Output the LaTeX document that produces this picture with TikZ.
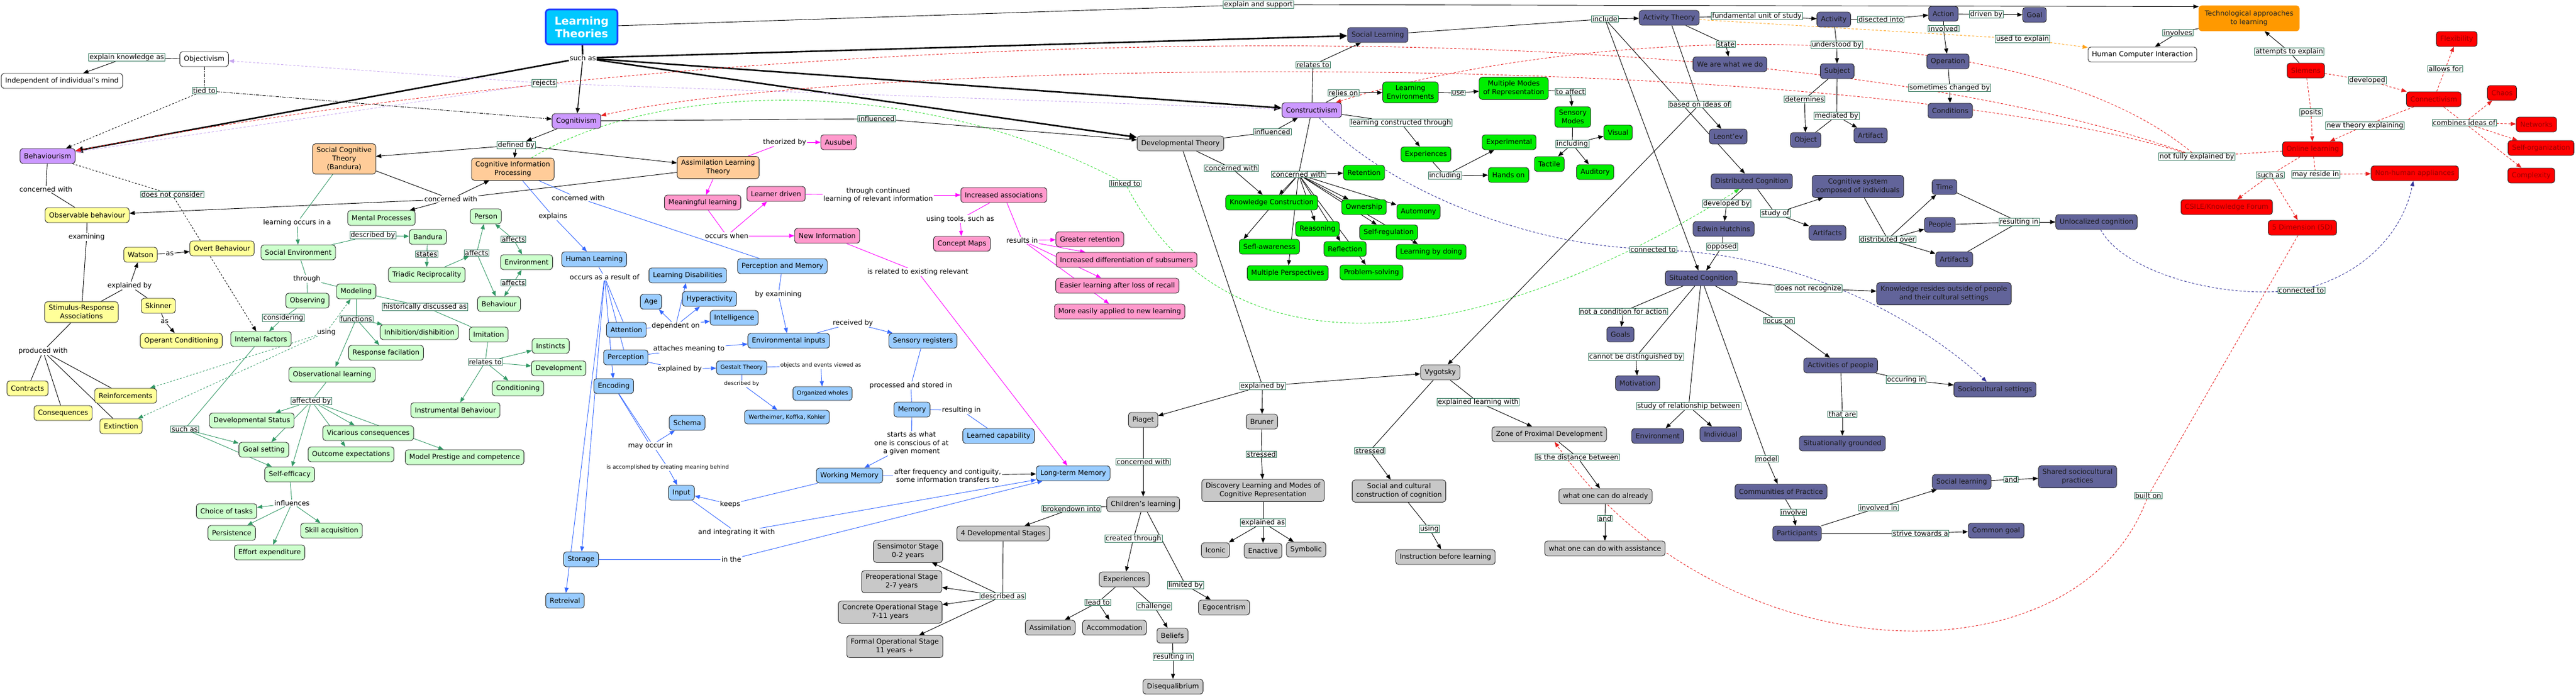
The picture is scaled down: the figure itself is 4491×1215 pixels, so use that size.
\documentclass[tikz,border=0pt]{standalone}
\usepackage{fontspec}
\setmainfont{DejaVu Sans}
\usetikzlibrary{arrows.meta}
\pgfdeclarelayer{bg}
\pgfdeclarelayer{paper}
\pgfsetlayers{paper,bg,main}
\definecolor{cPur}{HTML}{CC99FF}
\definecolor{cOrg}{HTML}{FFCC99}
\definecolor{cLgr}{HTML}{CCFFCC}
\definecolor{cYel}{HTML}{FFFF99}
\definecolor{cBlu}{HTML}{99CCFF}
\definecolor{cPnk}{HTML}{FF99CC}
\definecolor{cGry}{HTML}{C8C8C8}
\definecolor{cBgr}{HTML}{00EE00}
\definecolor{cSla}{HTML}{62649A}
\definecolor{cRed}{HTML}{FF0000}
\definecolor{cRedT}{HTML}{9A0000}
\definecolor{cTech}{HTML}{FF9900}
\definecolor{cLT}{HTML}{00C8FF}
\definecolor{cLTb}{HTML}{1E40FF}
\definecolor{cLab}{HTML}{3A7D63}
\definecolor{cGl}{HTML}{339966}
\definecolor{cBl}{HTML}{3366FF}
\definecolor{cMg}{HTML}{FF00FF}
\definecolor{cRd}{HTML}{E82020}
\definecolor{cNv}{HTML}{333399}
\definecolor{cLv}{HTML}{C8A8F0}
\definecolor{cOd}{HTML}{FFA31A}
\definecolor{cGd}{HTML}{33DD33}
\tikzset{
 cn/.style={draw=black!85, line width=0.9pt, rounded corners=5pt, font=\fontsize{12}{15}\selectfont, inner xsep=7pt, inner ysep=6pt, minimum height=26pt, align=center, text=black},
 cpur/.style={cn, fill=cPur},
 corg/.style={cn, fill=cOrg},
 clgr/.style={cn, fill=cLgr},
 cyel/.style={cn, fill=cYel},
 cblu/.style={cn, fill=cBlu},
 cpnk/.style={cn, fill=cPnk},
 cgry/.style={cn, fill=cGry},
 cbgr/.style={cn, fill=cBgr},
 csla/.style={cn, fill=cSla, text=black!90},
 cred/.style={cn, fill=cRed, text=cRedT},
 cwht/.style={cn, fill=white},
 csmall/.style={font=\fontsize{10}{12}\selectfont, minimum height=24pt},
 lb/.style={font=\fontsize{12}{14.5}\selectfont, inner xsep=1.5pt, inner ysep=1pt, fill=white, align=center},
 lbs/.style={lb, font=\fontsize{9.5}{11}\selectfont},
 lbx/.style={lb, draw=cLab, line width=0.7pt},
 tip/.style={-{Triangle[length=9pt,width=7pt]}},
 eK/.style={draw=black, line width=0.9pt},
 eKa/.style={eK, tip},
 eTk/.style={draw=black, line width=2.6pt},
 eTka/.style={eTk, -{Triangle[length=13pt,width=11pt]}},
 eKd/.style={eK, dash pattern=on 3pt off 3pt},
 eKda/.style={eKd, tip},
 eKdd/.style={eK, dash pattern=on 6pt off 2pt on 1.5pt off 2pt},
 eKdda/.style={eKdd, tip},
 eG/.style={draw=cGl, line width=0.9pt},
 eGa/.style={eG, tip},
 eGd/.style={eG, dash pattern=on 3pt off 3pt},
 eGda/.style={eGd, tip},
 eB/.style={draw=cBl, line width=0.9pt},
 eBa/.style={eB, tip},
 eM/.style={draw=cMg, line width=0.9pt},
 eMa/.style={eM, tip},
 eR/.style={draw=cRd, line width=0.9pt, dash pattern=on 4pt off 3pt},
 eRa/.style={eR, tip},
 eN/.style={draw=cNv, line width=0.9pt, dash pattern=on 4pt off 3pt},
 eNa/.style={eN, tip},
 eL/.style={draw=cLv, line width=0.9pt, dash pattern=on 4pt off 3pt},
 eLa/.style={eL, tip},
 eO/.style={draw=cOd, line width=0.9pt, dash pattern=on 4pt off 3pt},
 eOa/.style={eO, tip},
 eGD/.style={draw=cGd, line width=0.9pt, dash pattern=on 4pt off 3pt},
 eGDa/.style={eGD, tip},
}
\begin{document}
\begin{tikzpicture}[x=1pt,y=-1pt]
\useasboundingbox (0,0) rectangle (4491,1215);
\begin{pgfonlayer}{paper}
\fill[white] (0,0) rectangle (4491,1215);
\end{pgfonlayer}

% ---------------- main node
\node[draw=cLTb, line width=3pt, fill=cLT, rounded corners=6pt, text=white, font=\bfseries\fontsize{19}{22}\selectfont, align=center, minimum width=125pt, minimum height=61pt] (lt) at (1014,47) {Learning\\Theories};

% ---------------- left region
\node[cwht] (objv) at (356,103) {Objectivism};
\node[cwht] (indep) at (108,141) {Independent of individual's mind};
\node[cpur] (cog) at (1005,211) {Cognitivism};
\node[cpur] (beh) at (83,272) {Behaviourism};
\node[corg] (sct) at (600,277) {Social Cognitive\\Theory\\(Bandura)};
\node[corg] (cip) at (894,295) {Cognitive Information\\Processing};
\node[clgr] (mental) at (665,380) {Mental Processes};
\node[clgr] (person) at (847,377) {Person};
\node[cyel] (obsb) at (152,375) {Observable behaviour};
\node[clgr] (bandura) at (746,413) {Bandura};
\node[cyel] (watson) at (245,444) {Watson};
\node[cyel] (overt) at (387,433) {Overt Behaviour};
\node[clgr] (socenv) at (520,440) {Social Environment};
\node[clgr] (envg) at (918,457) {Environment};
\node[cblu] (hl) at (1036,452) {Human Learning};
\node[clgr] (triadic) at (744,479) {Triadic Reciprocality};
\node[clgr] (modeling) at (621,508) {Modeling};
\node[clgr] (observing) at (536,524) {Observing};
\node[cyel] (sr) at (142,544) {Stimulus-Response\\Associations};
\node[cyel] (skinner) at (276,533) {Skinner};
\node[clgr] (behg) at (870,530) {Behaviour};
\node[cyel] (operant) at (316,594) {Operant Conditioning};
\node[clgr] (internal) at (455,591) {Internal factors};
\node[clgr] (inhib) at (731,579) {Inhibition/dishibition};
\node[clgr] (imitation) at (852,583) {Imitation};
\node[clgr] (instincts) at (960,603) {Instincts};
\node[cblu] (attention) at (1092,575) {Attention};
\node[clgr] (respf) at (673,615) {Response facilation};
\node[clgr] (devel) at (974,642) {Development};
\node[clgr] (obsl) at (579,653) {Observational learning};
\node[cyel] (contracts) at (48,677) {Contracts};
\node[cyel] (reinf) at (219,690) {Reinforcements};
\node[clgr] (condg) at (903,677) {Conditioning};
\node[cblu] (encoding) at (1070,673) {Encoding};
\node[clgr] (instr) at (794,715) {Instrumental Behaviour};
\node[clgr] (devstat) at (439,733) {Developmental Status};
\node[cyel] (conseq) at (110,720) {Consequences};
\node[cyel] (extinct) at (211,743) {Extinction};
\node[clgr] (vicar) at (642,755) {Vicarious consequences};
\node[clgr] (goalset) at (460,784) {Goal setting};
\node[clgr] (outcome) at (612,792) {Outcome expectations};
\node[clgr] (prestige) at (810,797) {Model Prestige and competence};
\node[clgr] (selfeff) at (505,827) {Self-efficacy};
\node[clgr] (choice) at (395,891) {Choice of tasks};
\node[clgr] (persist) at (404,929) {Persistence};
\node[clgr] (skill) at (578,925) {Skill acquisition};
\node[clgr] (effort) at (470,963) {Effort expenditure};
\node[cblu] (perception) at (1091,623) {Perception};
\node[cblu] (storage) at (1013,975) {Storage};
\node[cblu] (retrieval) at (985,1047) {Retreival};

% ---------------- middle region
\node[cpnk] (ausubel) at (1462,248) {Ausubel};
\node[corg] (alt) at (1252,292) {Assimilation Learning\\Theory};
\node[cgry] (devth) at (2058,250) {Developmental Theory};
\node[cpnk] (meaningful) at (1225,353) {Meaningful learning};
\node[cpnk] (learnerd) at (1353,338) {Learner driven};
\node[cpnk] (incassoc) at (1750,340) {Increased associations};
\node[cpnk] (newinfo) at (1442,411) {New Information};
\node[cpnk] (cmaps) at (1677,425) {Concept Maps};
\node[cpnk] (greater) at (1900,417) {Greater retention};
\node[cpnk] (incdiff) at (1964,453) {Increased differentiation of subsumers};
\node[cpnk] (easier) at (1948,498) {Easier learning after loss of recall};
\node[cpnk] (moreeasy) at (1952,543) {More easily applied to new learning};
\node[cblu] (pm) at (1364,464) {Perception and Memory};
\node[cblu] (ld) at (1199,480) {Learning Disabilities};
\node[cblu] (age) at (1135,526) {Age};
\node[cblu] (hyper) at (1237,521) {Hyperactivity};
\node[cblu] (intel) at (1280,554) {Intelligence};
\node[cblu] (envin) at (1375,594) {Environmental inputs};
\node[cblu] (sensreg) at (1609,594) {Sensory registers};
\node[cblu, csmall] (gestalt) at (1293,641) {Gestalt Theory};
\node[cblu, csmall] (orgw) at (1434,686) {Organized wholes};
\node[cblu, csmall] (werth) at (1372,727) {Wertheimer, Koffka, Kohler};
\node[cblu] (schema) at (1198,737) {Schema};
\node[cblu] (memory) at (1590,714) {Memory};
\node[cblu] (learnedc) at (1741,760) {Learned capability};
\node[cblu] (input) at (1188,859) {Input};
\node[cblu] (wm) at (1481,829) {Working Memory};
\node[cblu] (ltm) at (1871,825) {Long-term Memory};

% ---------------- gray region
\node[cgry] (piaget) at (1993,732) {Piaget};
\node[cgry] (bruner) at (2200,735) {Bruner};
\node[cgry] (discovery) at (2202,855) {Discovery Learning and Modes of\\Cognitive Representation};
\node[cgry] (children) at (1993,879) {Children's learning};
\node[cgry] (fourds) at (1749,930) {4 Developmental Stages};
\node[cgry] (iconic) at (2119,959) {Iconic};
\node[cgry] (enactive) at (2202,960) {Enactive};
\node[cgry] (symbolic) at (2277,958) {Symbolic};
\node[cgry] (sensi) at (1583,961) {Sensimotor Stage\\0-2 years};
\node[cgry] (preop) at (1572,1014) {Preoperational Stage\\2-7 years};
\node[cgry] (concrete) at (1552,1067) {Concrete Operational Stage\\7-11 years};
\node[cgry] (formal) at (1560,1127) {Formal Operational Stage\\11 years +};
\node[cgry] (expg) at (1960,1010) {Experiences};
\node[cgry] (egocent) at (2134,1059) {Egocentrism};
\node[cgry] (assim) at (1831,1094) {Assimilation};
\node[cgry] (accom) at (1943,1094) {Accommodation};
\node[cgry] (beliefs) at (2044,1108) {Beliefs};
\node[cgry] (diseq) at (2045,1197) {Disequalibrium};
\node[cgry] (vygotsky) at (2511,649) {Vygotsky};
\node[cgry] (zpd) at (2701,757) {Zone of Proximal Development};
\node[cgry] (socult) at (2439,856) {Social and cultural\\construction of cognition};
\node[cgry] (already) at (2799,865) {what one can do already};
\node[cgry] (assist) at (2798,956) {what one can do with assistance};
\node[cgry] (instrb) at (2520,971) {Instruction before learning};

% ---------------- constructivism region
\node[cpur] (cons) at (2287,192) {Constructivism};
\node[cbgr] (learnenv) at (2459,161) {Learning\\Environments};
\node[cbgr] (mmr) at (2639,154) {Multiple Modes\\of Representation};
\node[cbgr] (sensm) at (2742,204) {Sensory\\Modes};
\node[cbgr] (visual) at (2821,231) {Visual};
\node[cbgr] (experimental) at (2631,248) {Experimental};
\node[cbgr] (expc) at (2486,269) {Experiences};
\node[cbgr] (tactile) at (2701,286) {Tactile};
\node[cbgr] (auditory) at (2781,300) {Auditory};
\node[cbgr] (handson) at (2630,305) {Hands on};
\node[cbgr] (retention) at (2378,301) {Retention};
\node[cbgr] (kc) at (2217,353) {Knowledge Construction};
\node[cbgr] (ownership) at (2378,361) {Ownership};
\node[cbgr] (automony) at (2473,369) {Automony};
\node[cbgr] (reasoning) at (2297,399) {Reasoning};
\node[cbgr] (selfreg) at (2421,405) {Self-regulation};
\node[cbgr] (reflection) at (2345,434) {Reflection};
\node[cbgr] (lbd) at (2495,439) {Learning by doing};
\node[cbgr] (sefl) at (2213,430) {Sefl-awareness};
\node[cbgr] (multper) at (2245,476) {Multiple Perspectives};
\node[cbgr] (probsolv) at (2391,475) {Problem-solving};

% ---------------- slate region
\node[csla] (soclearn) at (2402,61) {Social Learning};
\node[csla] (actth) at (2910,31) {Activity Theory};
\node[csla] (activity) at (3197,34) {Activity};
\node[csla] (action) at (3388,24) {Action};
\node[csla] (goal) at (3547,26) {Goal};
\node[csla] (operation) at (3396,107) {Operation};
\node[csla] (conditions) at (3400,193) {Conditions};
\node[csla] (subject) at (3203,124) {Subject};
\node[csla] (wearewhat) at (3016,112) {We are what we do};
\node[csla] (artifact) at (3261,236) {Artifact};
\node[csla] (object) at (3148,244) {Object};
\node[csla] (leontev) at (3013,238) {Leont'ev};
\node[csla] (dc) at (3054,316) {Distributed Cognition};
\node[csla] (cogsys) at (3239,325) {Cognitive system\\composed of individuals};
\node[csla] (hutchins) at (3005,399) {Edwin Hutchins};
\node[csla] (artifacts1) at (3186,406) {Artifacts};
\node[csla] (time) at (3390,326) {Time};
\node[csla] (people) at (3382,392) {People};
\node[csla] (artifacts2) at (3407,452) {Artifacts};
\node[csla] (unloc) at (3655,387) {Unlocalized cognition};
\node[csla] (sc) at (2966,485) {Situated Cognition};
\node[csla] (kresides) at (3389,512) {Knowledge resides outside of people\\and their cultural settings};
\node[csla] (goals) at (2825,583) {Goals};
\node[csla] (motivation) at (2855,668) {Motivation};
\node[csla] (actpeople) at (3209,637) {Activities of people};
\node[csla] (socset) at (3478,679) {Sociocultural settings};
\node[csla] (envp) at (2890,760) {Environment};
\node[csla] (individual) at (3000,757) {Individual};
\node[csla] (sitgr) at (3212,773) {Situationally grounded};
\node[csla] (cop) at (3105,857) {Communities of Practice};
\node[csla] (participants) at (3133,930) {Participants};
\node[csla] (commongoal) at (3480,925) {Common goal};
\node[csla] (soclearn2) at (3420,840) {Social learning};
\node[csla] (shared) at (3622,831) {Shared sociocultural\\practices};

% ---------------- right region
\node[cn, fill=cTech, draw=cTech, text=black!85, minimum width=175pt, minimum height=44pt] (tech) at (3921,32) {Technological approaches\\to learning};
\node[cwht] (hci) at (3735,95) {Human Computer Interaction};
\node[cred] (flex) at (4283,68) {Flexibility};
\node[cred] (siemens) at (4020,123) {Siemens};
\node[cred] (chaos) at (4362,162) {Chaos};
\node[cred] (connectivism) at (4243,173) {Connectivism};
\node[cred] (networks) at (4422,217) {Networks};
\node[cred] (online) at (4032,260) {Online learning};
\node[cred] (selforg) at (4430,258) {Self-organization};
\node[cred] (nha) at (4210,302) {Non-human appliances};
\node[cred] (complexity) at (4413,306) {Complexity};
\node[cred] (csile) at (3882,361) {CSILE/Knowledge Forum};
\node[cred] (fived) at (4014,397) {5 Dimension (5D)};

% ================= link labels
\node[lb] (l_suchas) at (1016,101) {such as};
\node[lbx] (l_explk) at (221,100) {explain knowledge as};
\node[lbx] (l_tied) at (356,158) {tied to};
\node[lbx] (l_rejects) at (949,145) {rejects};
\node[lbx] (l_definedby) at (900,253) {defined by};
\node[lb] (l_conc1) at (786,347) {concerned with};
\node[lb] (l_conc2) at (80,330) {concerned with};
\node[lbx] (l_dnc) at (300,339) {does not consider};
\node[lb] (l_loia) at (518,388) {learning occurs in a};
\node[lb] (l_explains) at (964,377) {explains};
\node[lb] (l_conc3) at (1008,345) {concerned with};
\node[lb] (l_examining) at (151,413) {examining};
\node[lbx] (l_descby) at (650,410) {described by};
\node[lbx] (l_aff1) at (895,417) {affects};
\node[lb] (l_as1) at (296,442) {as};
\node[lbx] (l_states) at (744,443) {states};
\node[lbx] (l_aff2) at (831,441) {affects};
\node[lbx] (l_aff3) at (895,493) {affects};
\node[lb] (l_oaro) at (1054,483) {occurs as a result of};
\node[lb] (l_explby1) at (226,498) {explained by};
\node[lb] (l_through) at (535,486) {through};
\node[lbx] (l_hist) at (741,535) {historically discussed as};
\node[lb] (l_as2) at (287,560) {as};
\node[lbx] (l_considering) at (494,554) {considering};
\node[lbx] (l_functions) at (621,556) {functions};
\node[lb] (l_using1) at (569,579) {using};
\node[lb] (l_produced) at (75,612) {produced with};
\node[lbx] (l_relates1) at (846,631) {relates to};
\node[lbx] (l_affby) at (543,699) {affected by};
\node[lbx] (l_suchas2) at (322,748) {such as};
\node[lb] (l_influences) at (509,877) {influences};

\node[lbx] (l_expsup) at (2194,8) {explain and support};
\node[lbx] (l_infl1) at (1528,207) {influenced};
\node[lb] (l_theor) at (1368,248) {theorized by};
\node[lbx] (l_infl2) at (2218,230) {influenced};
\node[lbx] (l_conc4) at (2147,293) {concerned with};
\node[lbx] (l_conc5) at (2264,304) {concerned with};
\node[lbx] (l_linked) at (1962,320) {linked to};
\node[lb] (l_tcl) at (1531,340) {through continued\\learning of relevant information};
\node[lb] (l_tools) at (1674,382) {using tools, such as};
\node[lb] (l_occwhen) at (1267,411) {occurs when};
\node[lb] (l_results) at (1782,419) {results in};
\node[lb] (l_related) at (1600,474) {is related to existing relevant};
\node[lb] (l_byexam) at (1357,513) {by examining};
\node[lb] (l_dep) at (1178,568) {dependent on};
\node[lb] (l_recv) at (1487,563) {received by};
\node[lb] (l_attach) at (1201,608) {attaches meaning to};
\node[lb] (l_explby2) at (1185,643) {explained by};
\node[lbs] (l_objev) at (1431,637) {objects and events viewed as};
\node[lbs] (l_descby2) at (1293,669) {described by};
\node[lb] (l_proc) at (1588,672) {processed and stored in};
\node[lb] (l_resin1) at (1676,715) {resulting in};
\node[lb] (l_starts) at (1589,773) {starts as what\\one is conscious of at\\a given moment};
\node[lb] (l_mayocc) at (1134,777) {may occur in};
\node[lbs] (l_accomp) at (1164,815) {is accomplished by creating meaning behind};
\node[lb] (l_after) at (1652,829) {after frequency and contiguity,\\some information transfers to};
\node[lb] (l_keeps) at (1273,879) {keeps};
\node[lb] (l_integ) at (1284,928) {and integrating it with};
\node[lb] (l_inthe) at (1275,975) {in the};

\node[lbx] (l_explby3) at (2201,673) {explained by};
\node[lbx] (l_conc6) at (1993,805) {concerned with};
\node[lbx] (l_stressed1) at (2199,792) {stressed};
\node[lbx] (l_broken) at (1868,887) {brokendown into};
\node[lbx] (l_explas) at (2202,911) {explained as};
\node[lbx] (l_created) at (1976,939) {created through};
\node[lbx] (l_descas) at (1748,1039) {described as};
\node[lbx] (l_limited) at (2067,1020) {limited by};
\node[lbx] (l_leadto) at (1914,1050) {lead to};
\node[lbx] (l_challenge) at (2012,1057) {challenge};
\node[lbx] (l_resin2) at (2045,1145) {resulting in};
\node[lbx] (l_elw) at (2577,701) {explained learning with};
\node[lbx] (l_stressed2) at (2388,786) {stressed};
\node[lbx] (l_distance) at (2750,797) {is the distance between};
\node[lbx] (l_and1) at (2798,904) {and};
\node[lbx] (l_using2) at (2492,922) {using};

\node[lbx] (l_relates2) at (2289,113) {relates to};
\node[lbx] (l_relies) at (2342,162) {relies on};
\node[lbx] (l_use) at (2542,162) {use};
\node[lbx] (l_toaffect) at (2738,160) {to affect};
\node[lbx] (l_lct) at (2442,214) {learning constructed through};
\node[lbx] (l_incl1) at (2741,251) {including};
\node[lbx] (l_incl2) at (2519,306) {including};

\node[lbx] (l_include) at (2798,33) {include};
\node[lbx] (l_fund) at (3063,28) {fundamental unit of study};
\node[lbx] (l_disected) at (3279,34) {disected into};
\node[lbx] (l_driven) at (3463,25) {driven by};
\node[lbx] (l_involved) at (3388,50) {involved};
\node[lbx] (l_used) at (3526,68) {used to explain};
\node[lbx] (l_involves) at (3797,57) {involves};
\node[lbx] (l_understood) at (3202,78) {understood by};
\node[lbx] (l_sometimes) at (3399,153) {sometimes changed by};
\node[lbx] (l_state) at (3009,77) {state};
\node[lbx] (l_determines) at (3146,173) {determines};
\node[lbx] (l_mediated) at (3202,202) {mediated by};
\node[lbx] (l_basedon) at (2963,182) {based on ideas of};
\node[lbx] (l_devby) at (3010,355) {developed by};
\node[lbx] (l_studyof) at (3095,372) {study of};
\node[lbx] (l_distover) at (3291,417) {distributed over};
\node[lbx] (l_resin3) at (3520,387) {resulting in};
\node[lbx] (l_opposed) at (3002,430) {opposed};
\node[lbx] (l_conn1) at (2882,435) {connected to};
\node[lbx] (l_dnr) at (3153,503) {does not recognize};
\node[lbx] (l_notcond) at (2830,543) {not a condition for action};
\node[lbx] (l_focus) at (3101,559) {focus on};
\node[lbx] (l_cannot) at (2852,622) {cannot be distinguished by};
\node[lbx] (l_occin) at (3323,662) {occuring in};
\node[lbx] (l_studyrel) at (2944,708) {study of relationship between};
\node[lbx] (l_thatare) at (3212,722) {that are};
\node[lbx] (l_model) at (3080,800) {model};
\node[lbx] (l_involve) at (3126,893) {involve};
\node[lbx] (l_involvedin) at (3275,885) {involved in};
\node[lbx] (l_strive) at (3348,930) {strive towards a};
\node[lbx] (l_and2) at (3506,836) {and};
\node[lbx] (l_builton) at (3745,864) {built on};

\node[lbx] (l_attempts) at (3991,90) {attempts to explain};
\node[lbx] (l_allows) at (4263,120) {allows for};
\node[lbx] (l_developed) at (4127,140) {developed};
\node[lbx] (l_posits) at (4029,196) {posits};
\node[lbx] (l_combines) at (4296,214) {combines ideas of};
\node[lbx] (l_newth) at (4123,219) {new theory explaining};
\node[lbx] (l_nfe) at (3830,273) {not fully explained by};
\node[lbx] (l_suchas3) at (3958,305) {such as};
\node[lbx] (l_mayres) at (4037,304) {may reside in};
\node[lbx] (l_conn2) at (4012,506) {connected to};

% ================= connectors
\begin{pgfonlayer}{bg}
% top level
\draw[eTk] (lt) -- (l_suchas);
\draw[eTka] (l_suchas) -- (beh);
\draw[eK, line width=1.4pt, tip] (l_suchas) -- (cog);
\draw[eTka] (l_suchas) -- (soclearn);
\draw[eTka] (l_suchas) -- (cons);
\draw[eTka] (l_suchas) -- (devth);
\draw[eK] (lt) -- (l_expsup);
\draw[eKa] (l_expsup) -- ([yshift=-2pt]tech.north west);
% objectivism
\draw[eK] (objv) -- (l_explk);
\draw[eKa] (l_explk) -- (indep);
\draw[eKdd] (objv) -- (l_tied);
\draw[eKda] (l_tied) -- (beh);
\draw[eKdda] (l_tied) -- (cog);
\draw[eL] (cons) -- (l_rejects);
\draw[eLa] (l_rejects) -- (objv);
\draw[eLa] (l_rejects) -- (beh);
% red dashed not fully explained by
\draw[eRa] (l_nfe) .. controls (3000,-20) and (1200,60) .. (beh);
\draw[eRa] (l_nfe) .. controls (3200,80) and (1500,100) .. (cog);
\draw[eRa] (l_nfe) .. controls (3500,0) and (2700,60) .. (cons);
% cognitivism
\draw[eKa] (cog) -- (l_definedby);
\draw[eKa] (l_definedby) -- (sct);
\draw[eKa] (l_definedby) -- (cip);
\draw[eKa] (l_definedby) -- (alt);
\draw[eK] (cog) -- (l_infl1);
\draw[eKa] (l_infl1) -- (devth);
\draw[eK] (devth) -- (l_infl2);
\draw[eKa] (l_infl2) -- (cons);
\draw[eK] (devth) -- (l_conc4);
\draw[eKa] (l_conc4) -- (kc);
\draw[eK] (devth) -- (l_explby3);
\foreach \t in {piaget,bruner,vygotsky} \draw[eKa] (l_explby3) -- (\t);
\draw[eK] (sct) -- (l_conc1);
\draw[eK] (alt) -- (l_conc1);
\foreach \t in {obsb,mental,cip} \draw[eKa] (l_conc1) -- (\t);
% behaviourism
\draw[eK] (beh) -- (l_conc2);
\draw[eK] (l_conc2) -- (obsb);
\draw[eKd] (beh) -- (l_dnc);
\draw[eKda] (l_dnc) -- (internal);
\draw[eK] (obsb) -- (l_examining);
\draw[eK] (l_examining) -- (sr);
\draw[eK] (sr) -- (l_explby1);
\draw[eKa] (l_explby1) -- (watson);
\draw[eK] (l_explby1) -- (skinner);
\draw[eK] (watson) -- (l_as1);
\draw[eKa] (l_as1) -- (overt);
\draw[eK] (skinner) -- (l_as2);
\draw[eKa] (l_as2) -- (operant);
\draw[eK] (sr) -- (l_produced);
\foreach \t in {contracts,conseq,reinf,extinct} \draw[eK] (l_produced) -- (\t);
% social cognitive theory (green)
\draw[eG] (sct) -- (l_loia);
\draw[eGa] (l_loia) -- (socenv);
\draw[eG] (socenv) -- (l_descby);
\draw[eGa] (l_descby) -- (bandura);
\draw[eG] (bandura) -- (l_states);
\draw[eGa] (l_states) -- (triadic);
\draw[eGa] (triadic) -- (l_aff2);
\draw[eGa] (l_aff2) -- (person);
\draw[eGa] (l_aff2) -- (behg);
\draw[eGa] (l_aff1) -- (person);
\draw[eGa] (l_aff1) -- (envg);
\draw[eGa] (l_aff3) -- (envg);
\draw[eGa] (l_aff3) -- (behg);
\draw[eG] (socenv) -- (l_through);
\draw[eG] (l_through) -- (observing);
\draw[eG] (l_through) -- (modeling);
\draw[eG] (observing) -- (l_considering);
\draw[eGa] (l_considering) -- (internal);
\draw[eG] (modeling) -- (l_hist);
\draw[eG] (l_hist) -- (imitation);
\draw[eG] (modeling) -- (l_functions);
\foreach \t in {inhib,respf,obsl} \draw[eGa] (l_functions) -- (\t);
\draw[eG] (imitation) -- (l_relates1);
\foreach \t in {instincts,devel,condg,instr} \draw[eGa] (l_relates1) -- (\t);
\draw[eG] (obsl) -- (l_affby);
\foreach \t in {devstat,vicar,goalset,outcome,selfeff,prestige} \draw[eGa] (l_affby) -- (\t);
\draw[eG] (internal) -- (l_suchas2);
\foreach \t in {goalset,selfeff} \draw[eGa] (l_suchas2) -- (\t);
\draw[eG] (selfeff) -- (l_influences);
\foreach \t in {choice,persist,effort,skill} \draw[eGa] (l_influences) -- (\t);
\foreach \t in {modeling,reinf,extinct} \draw[eGda] (l_using1) -- (\t);
% cognitive information processing (blue)
\draw[eB] (cip) -- (l_explains);
\draw[eBa] (l_explains) -- (hl);
\draw[eB] (cip) -- (l_conc3);
\draw[eB] (l_conc3) -- (pm);
\draw[eB] (hl) -- (l_oaro);
\draw[eB] (l_oaro) -- (attention);
\draw[eB] (l_oaro) -- (perception);
\foreach \t in {encoding,storage,retrieval} \draw[eBa] (l_oaro) -- (\t);
\draw[eB] (attention) -- (l_dep);
\foreach \t in {age,ld,hyper,intel} \draw[eBa] (l_dep) -- (\t);
\draw[eB] (perception) -- (l_attach);
\draw[eBa] (l_attach) -- (envin);
\draw[eB] (perception) -- (l_explby2);
\draw[eBa] (l_explby2) -- (gestalt);
\draw[eB] (gestalt) -- (l_objev);
\draw[eBa] (l_objev) -- (orgw);
\draw[eB] (gestalt) -- (l_descby2);
\draw[eBa] (l_descby2) -- (werth);
\draw[eB] (encoding) -- (l_mayocc);
\draw[eBa] (l_mayocc) -- (schema);
\draw[eB] (encoding) -- (l_accomp);
\draw[eBa] (l_accomp) -- (input);
\draw[eB] (wm) -- (l_keeps);
\draw[eBa] (l_keeps) -- (input);
\draw[eB] (input) -- (l_integ);
\draw[eBa] (l_integ) -- (ltm);
\draw[eB] (storage) -- (l_inthe);
\draw[eBa] (l_inthe) -- (ltm);
\draw[eB] (pm) -- (l_byexam);
\draw[eBa] (l_byexam) -- (envin);
\draw[eB] (envin) -- (l_recv);
\draw[eBa] (l_recv) -- (sensreg);
\draw[eB] (sensreg) -- (l_proc);
\draw[eB] (l_proc) -- (memory);
\draw[eB] (memory) -- (l_resin1);
\draw[eB] (l_resin1) -- (learnedc);
\draw[eB] (memory) -- (l_starts);
\draw[eBa] (l_starts) -- (wm);
\draw[eB] (wm) -- (l_after);
\draw[eKa] (l_after) -- (ltm);
% assimilation (magenta)
\draw[eM] (alt) -- (l_theor);
\draw[eMa] (l_theor) -- (ausubel);
\draw[eMa] (alt) -- (meaningful);
\draw[eM] (meaningful) -- (l_occwhen);
\draw[eMa] (l_occwhen) -- (learnerd);
\draw[eMa] (l_occwhen) -- (newinfo);
\draw[eM] (learnerd) -- (l_tcl);
\draw[eMa] (l_tcl) -- (incassoc);
\draw[eM] (incassoc) -- (l_tools);
\draw[eMa] (l_tools) -- (cmaps);
\draw[eM] (incassoc) -- (l_results);
\foreach \t in {greater,incdiff,easier,moreeasy} \draw[eMa] (l_results) -- (\t);
\draw[eM] (newinfo) -- (l_related);
\draw[eMa] (l_related) -- (ltm);
% green dashed linked to
\draw[eGD] (cip) .. controls (1150,140) and (1600,130) .. (l_linked);
\draw[eGDa] (l_linked) .. controls (2150,680) and (2600,600) .. (dc);
% developmental (gray)
\draw[eK] (piaget) -- (l_conc6);
\draw[eKa] (l_conc6) -- (children);
\draw[eK] (bruner) -- (l_stressed1);
\draw[eKa] (l_stressed1) -- (discovery);
\draw[eK] (discovery) -- (l_explas);
\foreach \t in {iconic,enactive,symbolic} \draw[eKa] (l_explas) -- (\t);
\draw[eK] (children) -- (l_broken);
\draw[eKa] (l_broken) -- (fourds);
\draw[eK] (fourds) -- (l_descas);
\foreach \t in {sensi,preop,concrete,formal} \draw[eKa] (l_descas) -- (\t);
\draw[eK] (children) -- (l_created);
\draw[eKa] (l_created) -- (expg);
\draw[eK] (expg) -- (l_leadto);
\foreach \t in {assim,accom} \draw[eKa] (l_leadto) -- (\t);
\draw[eK] (expg) -- (l_challenge);
\draw[eKa] (l_challenge) -- (beliefs);
\draw[eK] (beliefs) -- (l_resin2);
\draw[eKa] (l_resin2) -- (diseq);
\draw[eK] (children) -- (l_limited);
\draw[eKa] (l_limited) -- (egocent);
\draw[eK] (vygotsky) -- (l_elw);
\draw[eKa] (l_elw) -- (zpd);
\draw[eK] (vygotsky) -- (l_stressed2);
\draw[eKa] (l_stressed2) -- (socult);
\draw[eK] (socult) -- (l_using2);
\draw[eKa] (l_using2) -- (instrb);
\draw[eK] (zpd) -- (l_distance);
\draw[eKa] (l_distance) -- (already);
\draw[eK] (already) -- (l_and1);
\draw[eKa] (l_and1) -- (assist);
% constructivism
\draw[eK] (cons) -- (l_relates2);
\draw[eKa] (l_relates2) -- (soclearn);
\draw[eK] (cons) -- (l_relies);
\draw[eKa] (l_relies) -- (learnenv);
\draw[eK] (learnenv) -- (l_use);
\draw[eKa] (l_use) -- (mmr);
\draw[eK] (mmr) -- (l_toaffect);
\draw[eKa] (l_toaffect) -- (sensm);
\draw[eK] (sensm) -- (l_incl1);
\foreach \t in {visual,tactile,auditory} \draw[eKa] (l_incl1) -- (\t);
\draw[eK] (cons) -- (l_lct);
\draw[eKa] (l_lct) -- (expc);
\draw[eK] (expc) -- (l_incl2);
\foreach \t in {experimental,handson} \draw[eKa] (l_incl2) -- (\t);
\draw[eK] (cons) -- (l_conc5);
\foreach \t in {retention,kc,ownership,automony,selfreg,lbd,reasoning,reflection,probsolv,multper} \draw[eKa] (l_conc5) -- (\t);
\draw[eKa] (l_conc5) -- ([xshift=8pt]sefl.north west);
% navy dashed connected to
\draw[eN] (cons) .. controls (2420,330) and (2650,420) .. (l_conn1);
\draw[eNa] (l_conn1) .. controls (3150,450) and (3350,560) .. (socset);
\draw[eN] (unloc) .. controls (3700,470) and (3850,515) .. (l_conn2);
\draw[eNa] (l_conn2) .. controls (4130,470) and (4190,400) .. (nha);
% activity theory etc.
\draw[eK] (soclearn) -- (l_include);
\foreach \t in {actth,dc,sc} \draw[eKa] (l_include) -- (\t);
\draw[eK] (actth) -- (l_fund);
\draw[eKa] (l_fund) -- (activity);
\draw[eK] (activity) -- (l_disected);
\draw[eKa] (l_disected) -- (action);
\draw[eK] (action) -- (l_driven);
\draw[eKa] (l_driven) -- (goal);
\draw[eK] (action) -- (l_involved);
\draw[eKa] (l_involved) -- (operation);
\draw[eK] (operation) -- (l_sometimes);
\draw[eKa] (l_sometimes) -- (conditions);
\draw[eK] (activity) -- (l_understood);
\draw[eKa] (l_understood) -- (subject);
\draw[eK] (subject) -- (l_determines);
\draw[eKa] (l_determines) -- (object);
\draw[eK] (subject) -- (l_mediated);
\draw[eK] (object) -- (l_mediated);
\draw[eKa] (l_mediated) -- (artifact);
\draw[eK] (actth) -- (l_state);
\draw[eKa] (l_state) -- (wearewhat);
\draw[eK] (actth) -- (l_basedon);
\draw[eKa] (l_basedon) -- (leontev);
\draw[eKa] (l_basedon) -- (vygotsky);
\draw[eK] (dc) -- (l_devby);
\draw[eKa] (l_devby) -- (hutchins);
\draw[eK] (dc) -- (l_studyof);
\foreach \t in {artifacts1,cogsys} \draw[eKa] (l_studyof) -- (\t);
\draw[eK] (cogsys) -- (l_distover);
\foreach \t in {time,people,artifacts2} \draw[eKa] (l_distover) -- (\t);
\foreach \t in {time,people,artifacts2} \draw[eK] (\t) -- (l_resin3);
\draw[eKa] (l_resin3) -- (unloc);
\draw[eK] (hutchins) -- (l_opposed);
\draw[eKa] (l_opposed) -- (sc);
\draw[eK] (sc) -- (l_dnr);
\draw[eKa] (l_dnr) -- (kresides);
\draw[eK] (sc) -- (l_notcond);
\draw[eKa] (l_notcond) -- (goals);
\draw[eK] (sc) -- (l_cannot);
\draw[eKa] (l_cannot) -- (motivation);
\draw[eK] (sc) -- (l_studyrel);
\foreach \t in {envp,individual} \draw[eKa] (l_studyrel) -- (\t);
\draw[eK] (sc) -- (l_model);
\draw[eKa] (l_model) -- (cop);
\draw[eK] (sc) -- (l_focus);
\draw[eKa] (l_focus) -- (actpeople);
\draw[eK] (actpeople) -- (l_occin);
\draw[eKa] (l_occin) -- (socset);
\draw[eK] (actpeople) -- (l_thatare);
\draw[eKa] (l_thatare) -- (sitgr);
\draw[eK] (cop) -- (l_involve);
\draw[eKa] (l_involve) -- (participants);
\draw[eK] (participants) -- (l_involvedin);
\draw[eKa] (l_involvedin) -- (soclearn2);
\draw[eK] (participants) -- (l_strive);
\draw[eKa] (l_strive) -- (commongoal);
\draw[eK] (soclearn2) -- (l_and2);
\draw[eKa] (l_and2) -- (shared);
\draw[eO] (actth) -- (l_used);
\draw[eOa] (l_used) -- (hci);
% technology / connectivism
\draw[eK] (tech) -- (l_involves);
\draw[eKa] (l_involves) -- (hci);
\draw[eK] (siemens) -- (l_attempts);
\draw[eKa] (l_attempts) -- (tech);
\draw[eR] (siemens) -- (l_developed);
\draw[eRa] (l_developed) -- (connectivism);
\draw[eR] (siemens) -- (l_posits);
\draw[eRa] (l_posits) -- (online);
\draw[eR] (connectivism) -- (l_allows);
\draw[eRa] (l_allows) -- (flex);
\draw[eR] (connectivism) -- (l_combines);
\foreach \t in {chaos,networks,selforg,complexity} \draw[eRa] (l_combines) -- (\t);
\draw[eR] (connectivism) -- (l_newth);
\draw[eRa] (l_newth) -- (online);
\draw[eR] (online) -- (l_suchas3);
\foreach \t in {csile,fived} \draw[eRa] (l_suchas3) -- (\t);
\draw[eR] (online) -- (l_mayres);
\draw[eRa] (l_mayres) -- (nha);
\draw[eR] (online) -- (l_nfe);
\draw[eR] (fived) -- (l_builton);
\draw[eRa] (l_builton) .. controls (3620,1200) and (3000,1180) .. (zpd);
\end{pgfonlayer}
\end{tikzpicture}
\end{document}
